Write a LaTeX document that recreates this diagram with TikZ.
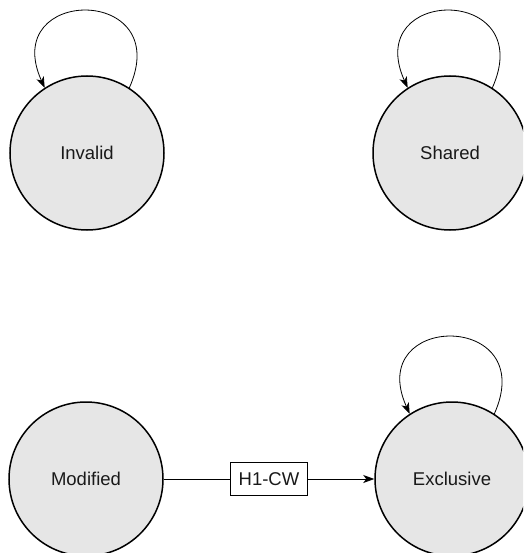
\documentclass[tikz,border=0pt]{standalone}
\usepackage{fontspec}
\setmainfont{Liberation Sans}
\usetikzlibrary{arrows.meta}
\definecolor{statefill}{HTML}{E6E6E6}
\tikzset{
  state/.style={circle, draw=black, line width=1.5pt, fill=statefill, minimum size=154pt, inner sep=0pt, font=\fontsize{18.5}{22}\selectfont, text=black!90},
  lbl/.style={draw=black, line width=0.8pt, fill=white, inner sep=0pt, minimum width=77pt, minimum height=33pt, font=\fontsize{18.5}{22}\selectfont, text=black!90},
  conn/.style={line width=0.8pt, -{Stealth[length=11pt,width=8pt,inset=3pt]}},
}
\begin{document}
\begin{tikzpicture}[x=1pt,y=-1pt]
\useasboundingbox (0,0) rectangle (523,553);
\clip (0,0) rectangle (523,553);
\node[state] (inv) at (87,153) {Invalid};
\node[state] (sha) at (450,153) {Shared};
\node[state] (mod) at (86,479) {Modified};
\node[state] (exc) at (452,479) {Exclusive};
\draw[conn] (inv.57) .. controls +(46,-103) and +(-46,-102) .. (inv.123);
\draw[conn] (sha.57) .. controls +(46,-103) and +(-46,-102) .. (sha.123);
\draw[conn] (exc.57) .. controls +(46,-103) and +(-46,-102) .. (exc.123);
\draw[conn] (mod) -- node[lbl] (h1) {H1-CW} (exc);
\end{tikzpicture}
\end{document}
